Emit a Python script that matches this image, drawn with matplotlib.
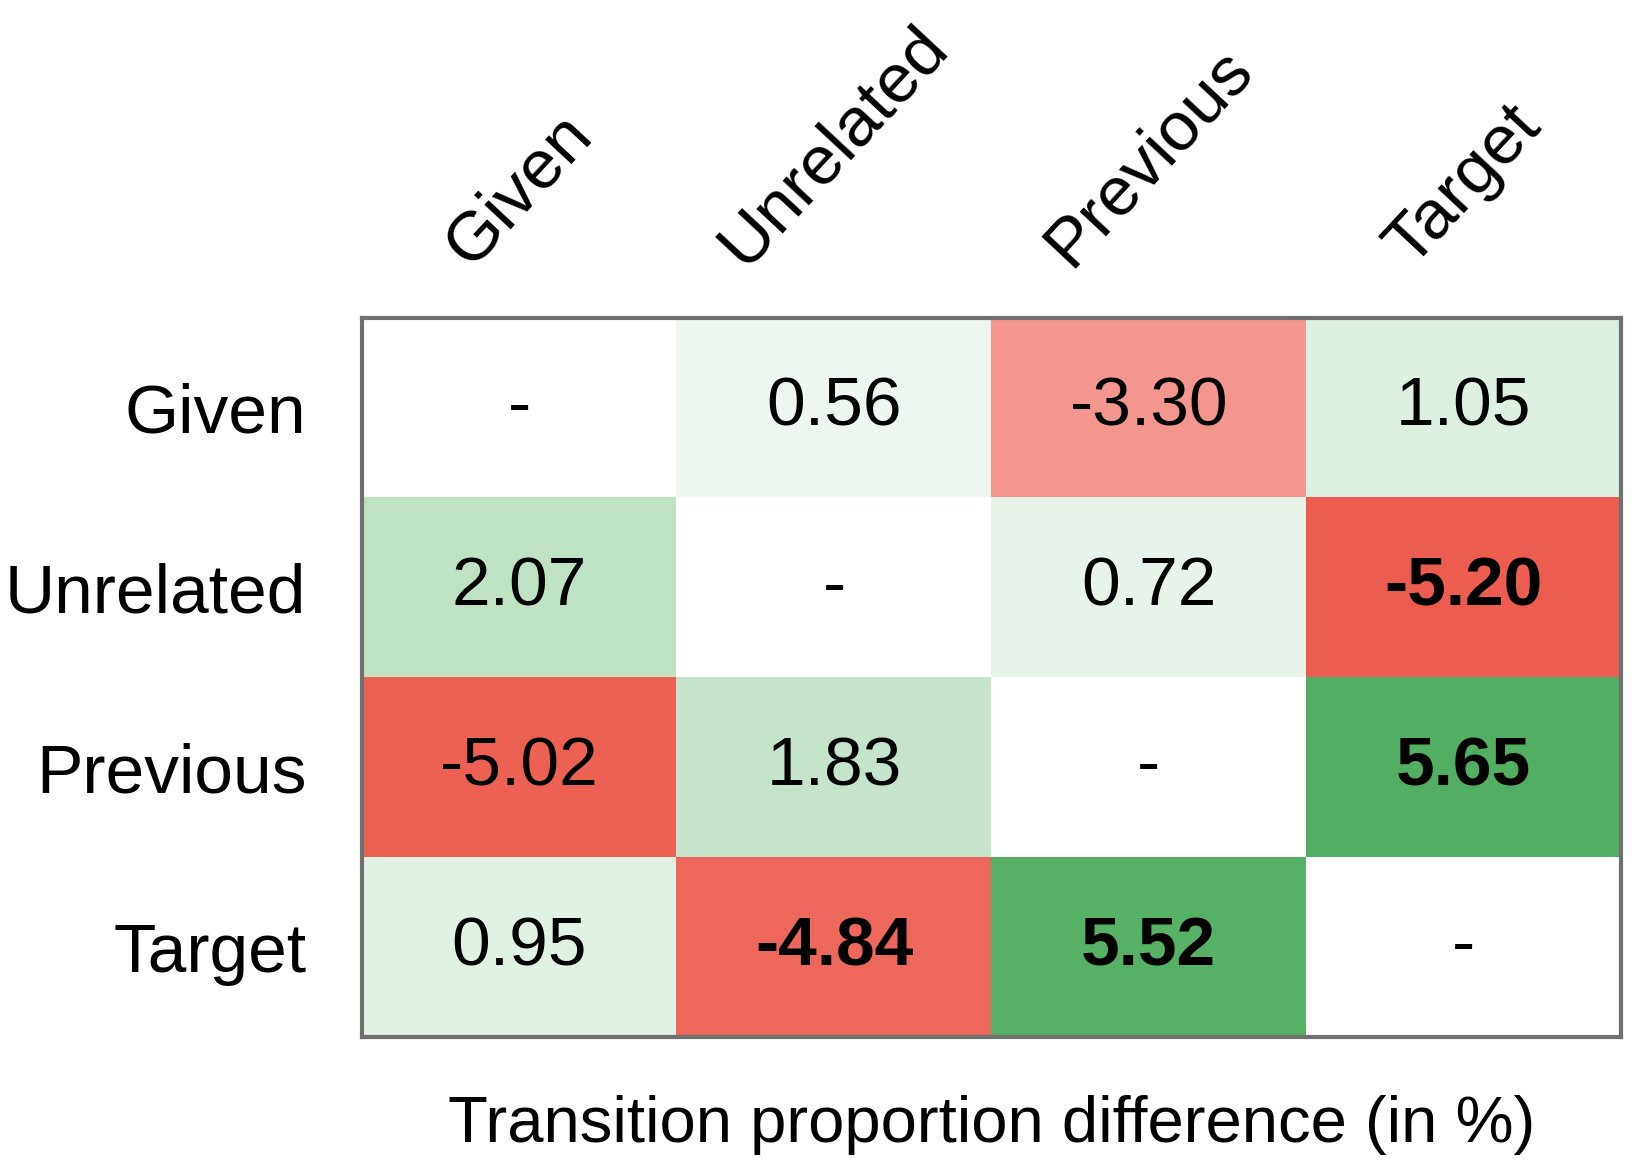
import matplotlib
matplotlib.use('Agg')
import matplotlib.pyplot as plt
import numpy as np
from matplotlib.colors import LinearSegmentedColormap

plt.rcParams['font.family'] = ['Liberation Sans', 'DejaVu Sans']

# categories (rows = from, columns = to)
labels = ['Given', 'Unrelated', 'Previous', 'Target']

# transition proportion differences in %, nan on the diagonal
values = np.array([
    [np.nan, 0.56, -3.30, 1.05],
    [2.07, np.nan, 0.72, -5.20],
    [-5.02, 1.83, np.nan, 5.65],
    [0.95, -4.84, 5.52, np.nan],
])

# cells printed in bold
bold = [
    [False, False, False, False],
    [False, False, False, True],
    [False, False, False, True],
    [False, True, True, False],
]

cmap = LinearSegmentedColormap.from_list('rg', ['#ea4434', '#ffffff', '#48ab58'])
cmap.set_bad('white')

fig = plt.figure(figsize=(16.33, 11.73), dpi=100)
ax = fig.add_axes([0.2217, 0.1159, 0.7709, 0.6130])

ax.imshow(np.ma.masked_invalid(values), cmap=cmap, vmin=-6, vmax=6, aspect='auto')

for i in range(4):
    for j in range(4):
        v = values[i, j]
        txt = '-' if np.isnan(v) else '%.2f' % v
        ax.text(j, i, txt, ha='center', va='center', fontsize=50,
                fontweight='bold' if bold[i][j] else 'normal', color='black')

ax.set_yticks(range(4))
ax.set_yticklabels(labels, fontsize=50)
ax.tick_params(axis='y', length=0, pad=40)

# column labels on top, rotated
ax.xaxis.tick_top()
ax.set_xticks(range(4))
ax.set_xticklabels(labels, fontsize=50, rotation=47, ha='center', va='bottom')
ax.tick_params(axis='x', length=0, pad=29)

ax.xaxis.set_label_position('bottom')
ax.set_xlabel('Transition proportion difference (in %)', fontsize=47, labelpad=42)

for s in ax.spines.values():
    s.set_color('#707070')
    s.set_linewidth(3)

fig.savefig('out.png', dpi=100)
